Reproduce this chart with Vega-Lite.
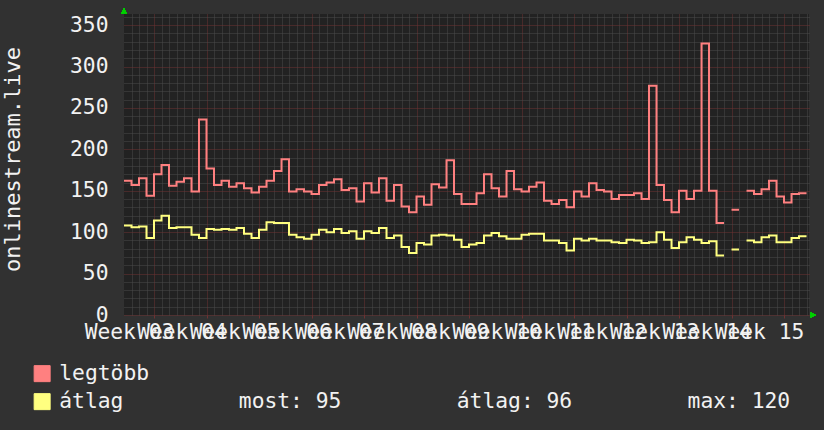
{
  "$schema": "https://vega.github.io/schema/vega-lite/v6.json",
  "width": 685,
  "height": 301,
  "autosize": "none",
  "padding": {"left": 124, "top": 14, "right": 15, "bottom": 115},
  "background": "#313131",
  "view": {"fill": "#222222", "stroke": null},
  "config": {
    "font": "DejaVu Sans Mono",
    "axis": {"labelFont": "DejaVu Sans Mono", "titleFont": "DejaVu Sans Mono"},
    "legend": {"labelFont": "DejaVu Sans Mono"}
  },
  "data": {
    "values": [
      {"day": 0, "legtobb": 162, "atlag": 108},
      {"day": 1, "legtobb": 157, "atlag": 106},
      {"day": 2, "legtobb": 165, "atlag": 107},
      {"day": 3, "legtobb": 144, "atlag": 93},
      {"day": 4, "legtobb": 170, "atlag": 114},
      {"day": 5, "legtobb": 181, "atlag": 120},
      {"day": 6, "legtobb": 156, "atlag": 105},
      {"day": 7, "legtobb": 161, "atlag": 106},
      {"day": 8, "legtobb": 165, "atlag": 106},
      {"day": 9, "legtobb": 149, "atlag": 97},
      {"day": 10, "legtobb": 236, "atlag": 93},
      {"day": 11, "legtobb": 177, "atlag": 104},
      {"day": 12, "legtobb": 157, "atlag": 103},
      {"day": 13, "legtobb": 162, "atlag": 104},
      {"day": 14, "legtobb": 155, "atlag": 103},
      {"day": 15, "legtobb": 159, "atlag": 105},
      {"day": 16, "legtobb": 153, "atlag": 98},
      {"day": 17, "legtobb": 148, "atlag": 93},
      {"day": 18, "legtobb": 155, "atlag": 103},
      {"day": 19, "legtobb": 162, "atlag": 112},
      {"day": 20, "legtobb": 174, "atlag": 111},
      {"day": 21, "legtobb": 188, "atlag": 111},
      {"day": 22, "legtobb": 149, "atlag": 97},
      {"day": 23, "legtobb": 152, "atlag": 94},
      {"day": 24, "legtobb": 149, "atlag": 92},
      {"day": 25, "legtobb": 146, "atlag": 97},
      {"day": 26, "legtobb": 157, "atlag": 103},
      {"day": 27, "legtobb": 160, "atlag": 100},
      {"day": 28, "legtobb": 164, "atlag": 104},
      {"day": 29, "legtobb": 151, "atlag": 99},
      {"day": 30, "legtobb": 153, "atlag": 101},
      {"day": 31, "legtobb": 137, "atlag": 92},
      {"day": 32, "legtobb": 159, "atlag": 101},
      {"day": 33, "legtobb": 148, "atlag": 99},
      {"day": 34, "legtobb": 165, "atlag": 105},
      {"day": 35, "legtobb": 138, "atlag": 93},
      {"day": 36, "legtobb": 157, "atlag": 96},
      {"day": 37, "legtobb": 131, "atlag": 82},
      {"day": 38, "legtobb": 124, "atlag": 75},
      {"day": 39, "legtobb": 143, "atlag": 87},
      {"day": 40, "legtobb": 133, "atlag": 85},
      {"day": 41, "legtobb": 158, "atlag": 96},
      {"day": 42, "legtobb": 154, "atlag": 97},
      {"day": 43, "legtobb": 187, "atlag": 96},
      {"day": 44, "legtobb": 146, "atlag": 91},
      {"day": 45, "legtobb": 134, "atlag": 82},
      {"day": 46, "legtobb": 134, "atlag": 85},
      {"day": 47, "legtobb": 147, "atlag": 87},
      {"day": 48, "legtobb": 170, "atlag": 96},
      {"day": 49, "legtobb": 153, "atlag": 99},
      {"day": 50, "legtobb": 143, "atlag": 95},
      {"day": 51, "legtobb": 174, "atlag": 92},
      {"day": 52, "legtobb": 152, "atlag": 92},
      {"day": 53, "legtobb": 149, "atlag": 97},
      {"day": 54, "legtobb": 155, "atlag": 98},
      {"day": 55, "legtobb": 160, "atlag": 98},
      {"day": 56, "legtobb": 138, "atlag": 90},
      {"day": 57, "legtobb": 134, "atlag": 90},
      {"day": 58, "legtobb": 139, "atlag": 87},
      {"day": 59, "legtobb": 130, "atlag": 78},
      {"day": 60, "legtobb": 149, "atlag": 92},
      {"day": 61, "legtobb": 143, "atlag": 90},
      {"day": 62, "legtobb": 159, "atlag": 92},
      {"day": 63, "legtobb": 151, "atlag": 90},
      {"day": 64, "legtobb": 149, "atlag": 90},
      {"day": 65, "legtobb": 140, "atlag": 88},
      {"day": 66, "legtobb": 145, "atlag": 87},
      {"day": 67, "legtobb": 145, "atlag": 91},
      {"day": 68, "legtobb": 147, "atlag": 90},
      {"day": 69, "legtobb": 140, "atlag": 87},
      {"day": 70, "legtobb": 277, "atlag": 88},
      {"day": 71, "legtobb": 157, "atlag": 100},
      {"day": 72, "legtobb": 139, "atlag": 91},
      {"day": 73, "legtobb": 124, "atlag": 81},
      {"day": 74, "legtobb": 150, "atlag": 88},
      {"day": 75, "legtobb": 140, "atlag": 94},
      {"day": 76, "legtobb": 150, "atlag": 91},
      {"day": 77, "legtobb": 328, "atlag": 87},
      {"day": 78, "legtobb": 150, "atlag": 89},
      {"day": 79, "legtobb": 111, "atlag": 72},
      {"day": 80, "legtobb": 111, "atlag": 72},
      {"day": 80.5, "legtobb": null, "atlag": null},
      {"day": 81, "legtobb": 127, "atlag": 79},
      {"day": 82, "legtobb": 127, "atlag": 79},
      {"day": 82.5, "legtobb": null, "atlag": null},
      {"day": 83, "legtobb": 150, "atlag": 90},
      {"day": 84, "legtobb": 146, "atlag": 88},
      {"day": 85, "legtobb": 152, "atlag": 94},
      {"day": 86, "legtobb": 162, "atlag": 96},
      {"day": 87, "legtobb": 143, "atlag": 88},
      {"day": 88, "legtobb": 136, "atlag": 88},
      {"day": 89, "legtobb": 146, "atlag": 93},
      {"day": 90, "legtobb": 147, "atlag": 95},
      {"day": 91, "legtobb": 147, "atlag": 95}
    ]
  },
  "layer": [
    {
      "mark": {"type": "point", "shape": "triangle-up", "filled": true, "color": "#00d000", "opacity": 1, "size": 30},
      "encoding": {
        "x": {
          "datum": 0, "type": "quantitative",
          "scale": {"domain": [0, 91.33], "nice": false, "zero": false},
          "axis": {
            "orient": "top", "title": null, "labels": false, "ticks": false, "domain": false,
            "grid": true, "gridColor": "#4a4a4a", "gridDash": [1, 1], "gridWidth": 1,
            "values": [1,2,3,5,6,7,8,9,10,12,13,14,15,16,17,19,20,21,22,23,24,26,27,28,29,30,31,33,34,35,36,37,38,40,41,42,43,44,45,47,48,49,50,51,52,54,55,56,57,58,59,61,62,63,64,65,66,68,69,70,71,72,73,75,76,77,78,79,80,82,83,84,85,86,87,89,90,91]
          }
        },
        "y": {
          "datum": 367.4, "type": "quantitative",
          "scale": {"domain": [0, 363.5], "nice": false, "zero": false},
          "axis": {
            "orient": "right", "title": null, "labels": false, "ticks": false, "domain": false,
            "grid": true, "gridColor": "#4a4a4a", "gridDash": [1, 1], "gridWidth": 1,
            "values": [10,20,30,40,60,70,80,90,110,120,130,140,160,170,180,190,210,220,230,240,260,270,280,290,310,320,330,340,360]
          }
        }
      }
    },
    {
      "mark": {"type": "point", "shape": "triangle-right", "filled": true, "color": "#00d000", "opacity": 1, "size": 30},
      "encoding": {
        "x": {"datum": 91.87, "type": "quantitative", "scale": {"domain": [0, 91.33], "nice": false, "zero": false}, "axis": null},
        "y": {"datum": 0, "type": "quantitative", "scale": {"domain": [0, 363.5], "nice": false, "zero": false}, "axis": null}
      }
    },
    {
      "transform": [{"fold": ["legtobb", "atlag"], "as": ["series", "value"]}],
      "mark": {"type": "line", "interpolate": "step-after", "strokeWidth": 2},
      "encoding": {
        "x": {
          "field": "day", "type": "quantitative",
          "scale": {"domain": [0, 91.33], "nice": false, "zero": false},
          "axis": {
            "orient": "bottom", "title": null, "domain": false,
            "values": [4, 11, 18, 25, 32, 39, 46, 53, 60, 67, 74, 81, 88],
            "grid": true, "gridColor": "#6e3232", "gridDash": [1, 1], "gridWidth": 1,
            "ticks": true, "tickColor": "#6e3232", "tickSize": 3,
            "labelExpr": "'Week ' + (3 + (datum.value - 4) / 7 < 10 ? '0' : '') + (3 + (datum.value - 4) / 7)",
            "labelOffset": -25, "labelPadding": 3, "labelBaseline": "top",
            "labelFont": "DejaVu Sans Mono", "labelFontSize": 21.3, "labelColor": "#f2f2f2",
            "labelOverlap": false, "labelFlush": false, "labelBound": false
          }
        },
        "y": {
          "field": "value", "type": "quantitative",
          "scale": {"domain": [0, 363.5], "nice": false, "zero": false},
          "axis": {
            "orient": "left", "title": "onlinestream.live", "domain": false, "ticks": false,
            "values": [0, 50, 100, 150, 200, 250, 300, 350],
            "grid": true, "gridColor": "#6e3232", "gridDash": [1, 1], "gridWidth": 1,
            "labelFont": "DejaVu Sans Mono", "labelFontSize": 21.3, "labelColor": "#f2f2f2", "labelPadding": 16,
            "labelOverlap": false, "labelBound": false, "labelFlush": false,
            "titleFont": "DejaVu Sans Mono", "titleFontSize": 22, "titleColor": "#f2f2f2", "titleFontWeight": "normal",
            "titleAngle": -90, "titleX": -105, "titleY": 145, "titleAlign": "center", "titleBaseline": "alphabetic"
          }
        },
        "color": {
          "field": "series", "type": "nominal",
          "scale": {"domain": ["legtobb", "atlag"], "range": ["#ff8080", "#ffff80"]},
          "legend": {
            "orient": "none", "legendX": -92.5, "legendY": 349, "direction": "vertical",
            "title": null, "padding": 0, "symbolType": "square", "symbolSize": 256,
            "symbolStrokeWidth": 1, "rowPadding": 6, "labelOffset": 6.5,
            "labelFont": "DejaVu Sans Mono", "labelFontSize": 21.3, "labelColor": "#f2f2f2", "labelLimit": 0,
            "labelExpr": "datum.label == 'legtobb' ? 'legtöbb' : 'átlag\u00a0\u00a0\u00a0\u00a0\u00a0\u00a0\u00a0\u00a0\u00a0most: 95\u00a0\u00a0\u00a0\u00a0\u00a0\u00a0\u00a0\u00a0\u00a0átlag: 96\u00a0\u00a0\u00a0\u00a0\u00a0\u00a0\u00a0\u00a0\u00a0max: 120'",
            "encode": {
              "symbols": {
                "update": {
                  "fill": {"scale": "color", "field": "value"},
                  "stroke": {"value": "#1a1a1a"},
                  "strokeWidth": {"value": 1},
                  "opacity": {"value": 1}
                }
              }
            }
          }
        }
      }
    }
  ],
  "resolve": {"axis": {"x": "independent", "y": "independent"}}
}
